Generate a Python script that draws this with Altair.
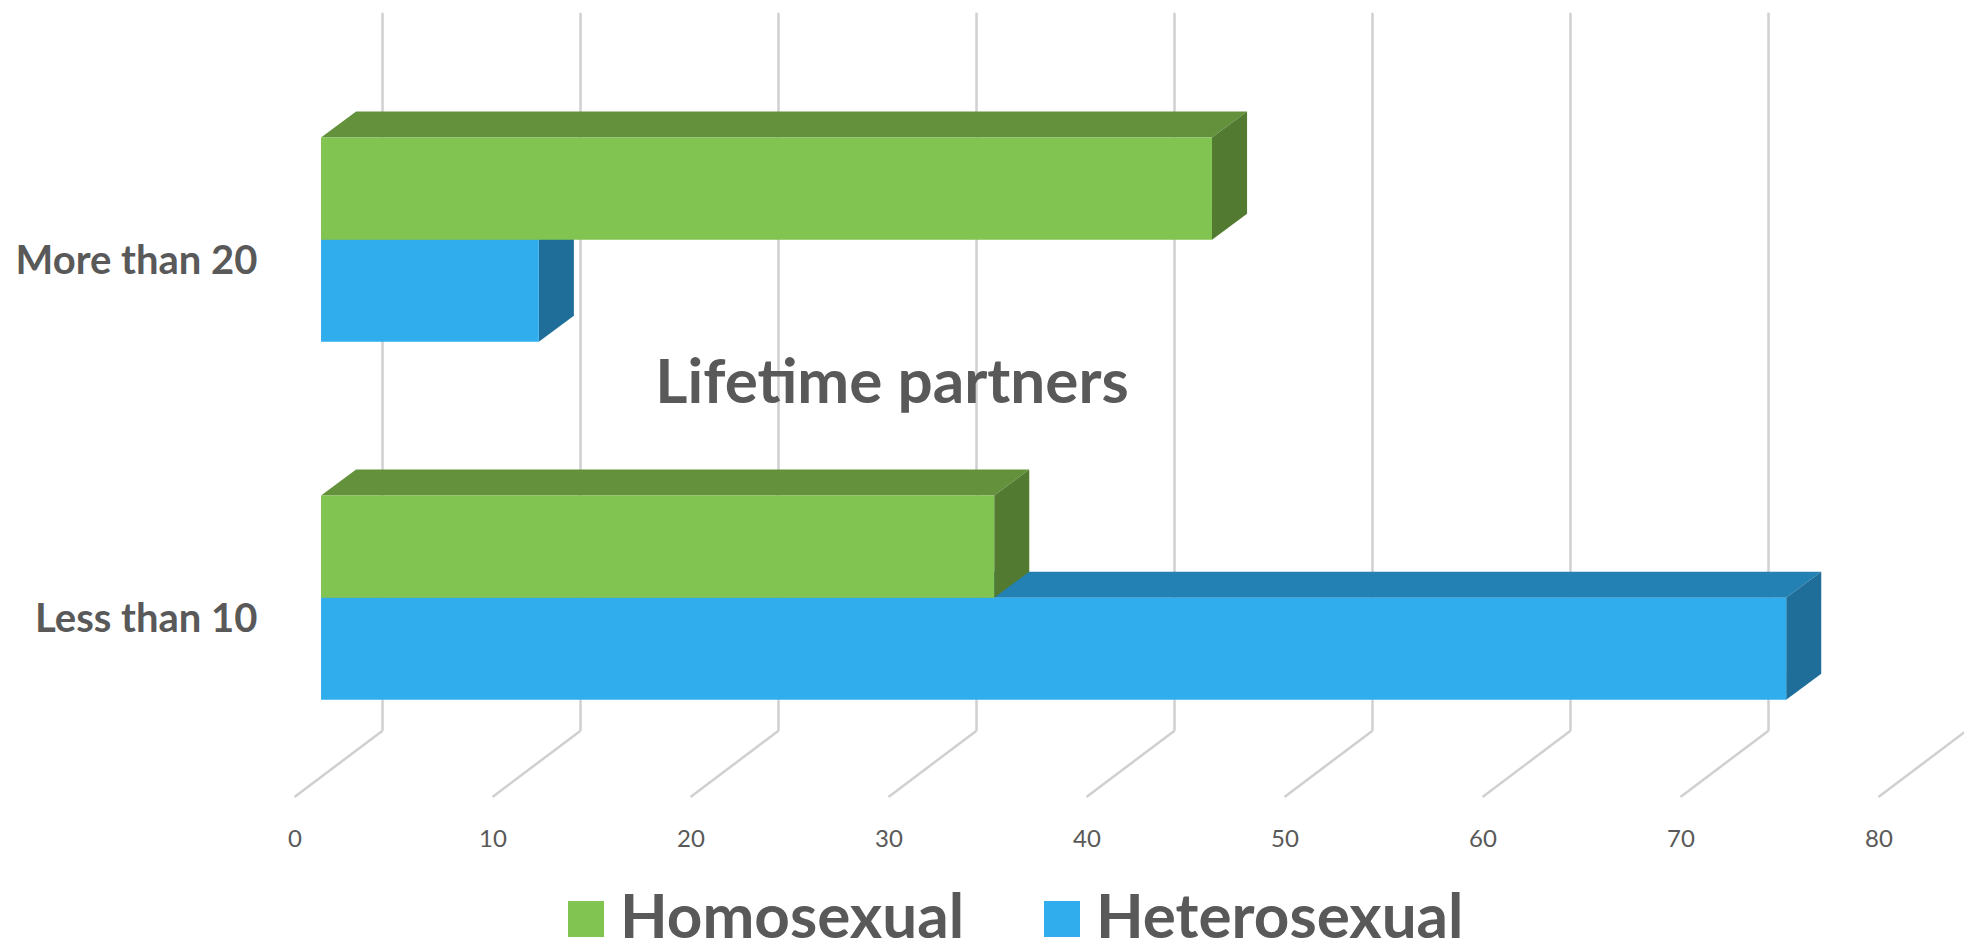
import altair as alt
import pandas as pd

categories = ["Less than 10", "More than 20"]
series = ["Homosexual", "Heterosexual"]
homosexual = [34, 45]
heterosexual = [74, 11]
ticks = [0, 10, 20, 30, 40, 50, 60, 70, 80]

GREY = "#595959"
GRID = "#D0D0D0"
COLORS = {"Homosexual": ("#82C451", "#64923C", "#527A30"),
          "Heterosexual": ("#30ADED", "#2481B3", "#1F6E99")}

W, H = 1956, 943
x_scale = alt.Scale(domain=[-15.81, 82.98], nice=False, zero=False)
y_scale = alt.Scale(domain=[-0.931, 1.703], nice=False, zero=False)

BAR_H = 0.285
SPLIT = 0.056
DEPTH_X = 1.77
DEPTH_Y = 0.0726
WALL_DX = 3.106
FLOOR_DX = -1.34
WALL_TOP, WALL_BOTTOM, FLOOR_FRONT = 1.69, -0.3156, -0.5008

x_axis = alt.Axis(
    values=ticks, title=None, domain=False, ticks=False, grid=False,
    orient="bottom", offset=-112, labelPadding=0, labelBaseline="middle",
    labelOffset=-26.5, labelFontSize=24, labelColor=GREY,
    labelFont="Lato", labelFlush=False, labelOverlap=False)
y_axis = alt.Axis(
    values=[0, 1], title=None, domain=False, ticks=False, grid=False,
    orient="left", offset=-249, labelPadding=0, labelFontSize=40, labelOffset=1.5,
    labelFontWeight="bold", labelColor=GREY, labelFont="Lato",
    labelExpr="['" + "','".join(categories) + "'][datum.value]", labelLimit=400)

X = lambda f: alt.X(f, scale=x_scale, axis=x_axis)
Y = lambda f: alt.Y(f, scale=y_scale, axis=y_axis)

grid_df = pd.DataFrame({"t": ticks})
grid_df["x"] = grid_df.t + WALL_DX
grid_df["fx"] = grid_df.t + FLOOR_DX
grid_df["top"] = WALL_TOP
grid_df["bottom"] = WALL_BOTTOM
grid_df["front"] = FLOOR_FRONT

walls = alt.Chart(grid_df).mark_rule(color=GRID, strokeWidth=2.5).encode(
    x=X("x:Q"), y=Y("top:Q"), y2="bottom:Q")
floor = alt.Chart(grid_df).mark_rule(color=GRID, strokeWidth=2.5).encode(
    x=X("x:Q"), x2="fx:Q", y=Y("bottom:Q"), y2="front:Q")

layers = [walls, floor]
for name, values, sign in [("Heterosexual", heterosexual, -1), ("Homosexual", homosexual, 1)]:
    front_c, top_c, side_c = COLORS[name]
    rows_top, rows_side, rows_front = [], [], []
    for i, v in enumerate(values):
        a = i + SPLIT
        b = a + sign * BAR_H
        y_hi, y_lo = max(a, b), min(a, b)
        rows_front.append({"name": name, "x": 0, "x2": v, "y": y_lo, "y2": y_hi})
        rows_top.append({"id": i, "y": y_hi, "x": 0, "x2": v})
        rows_top.append({"id": i, "y": y_hi + DEPTH_Y, "x": DEPTH_X, "x2": v + DEPTH_X})
        rows_side.append({"id": i, "x": v, "y": y_lo, "y2": y_hi})
        rows_side.append({"id": i, "x": v + DEPTH_X, "y": y_lo + DEPTH_Y, "y2": y_hi + DEPTH_Y})
    layers.append(alt.Chart(pd.DataFrame(rows_top)).mark_area(color=top_c, orient="horizontal").encode(
        y=Y("y:Q"), x=X("x:Q"), x2="x2:Q", detail="id:N"))
    layers.append(alt.Chart(pd.DataFrame(rows_side)).mark_area(color=side_c, orient="vertical").encode(
        x=X("x:Q"), y=Y("y:Q"), y2="y2:Q", detail="id:N"))
    layers.append(alt.Chart(pd.DataFrame(rows_front)).mark_rect().encode(
        x=X("x:Q"), x2="x2:Q", y=Y("y:Q"), y2="y2:Q",
        color=alt.Color("name:N", scale=alt.Scale(domain=series, range=[COLORS[s][0] for s in series]),
                        legend=alt.Legend(
                            orient="none", legendX=547, legendY=880, direction="horizontal",
                            title=None, symbolType="square", symbolSize=1296, symbolStrokeWidth=0,
                            labelFontSize=62, labelFont="Lato", labelColor=GREY,
                            labelFontWeight="bold", labelOffset=3, columnPadding=66,
                            labelLimit=600, padding=0, symbolOpacity=1))))

chart = alt.layer(*layers).properties(
    width=W, height=H, padding=0, background="white",
    autosize=alt.AutoSizeParams(type="none"),
    title=alt.TitleParams("Lifetime partners", fontSize=62, font="Lato", fontWeight="bold",
                          color=GREY, anchor="middle", baseline="alphabetic", offset=0,
                          dx=-94, dy=457),
).configure_view(stroke=None)

chart.save("out.html", embed_options={"renderer": "svg", "actions": False})
